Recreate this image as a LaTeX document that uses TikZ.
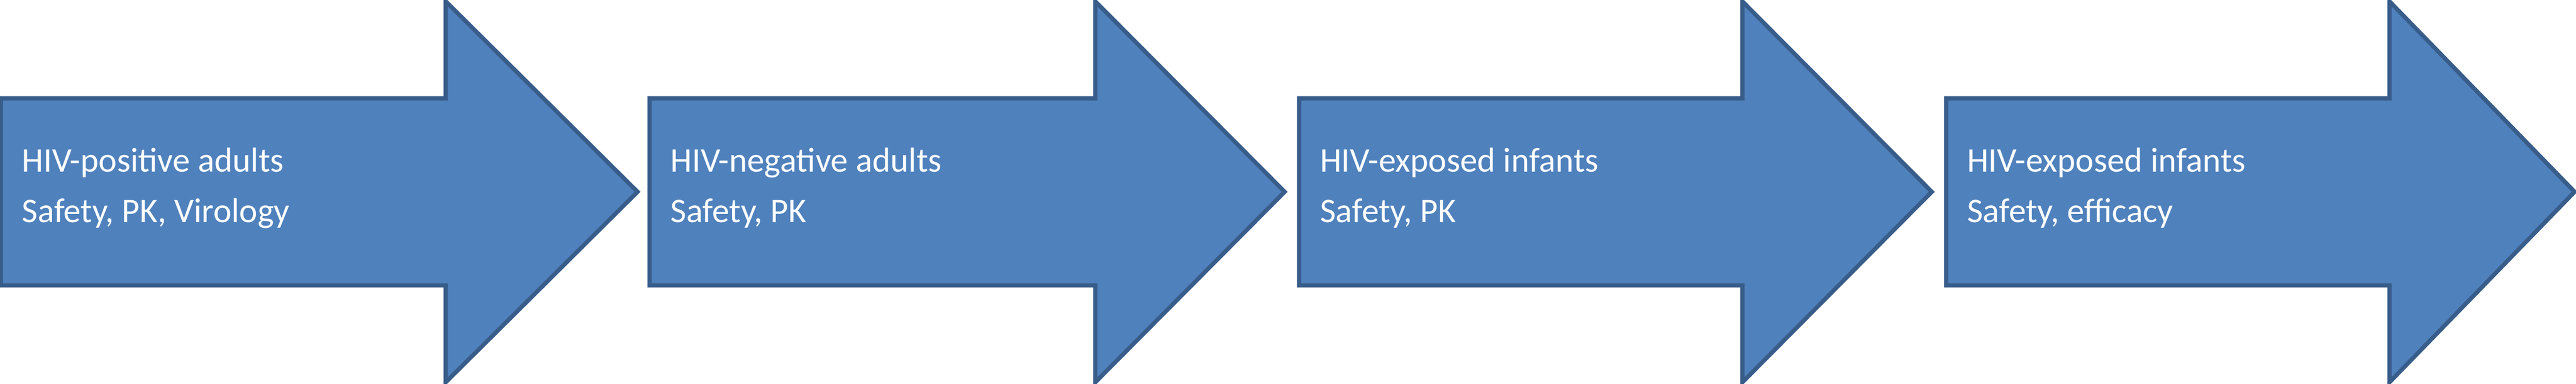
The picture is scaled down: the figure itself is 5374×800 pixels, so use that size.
\documentclass[tikz,border=0pt]{standalone}
\usepackage{fontspec}
\setmainfont{Carlito}
\definecolor{af}{HTML}{4F81BD}
\definecolor{ab}{HTML}{385D8A}
\tikzset{arr/.style={fill=af,draw=ab,line width=2.5pt,line join=miter},
lbl/.style={text=white,align=left,anchor=west,font=\fontsize{20.5}{30}\selectfont,inner sep=0}}
\begin{document}
\begin{tikzpicture}[x=0.01cm,y=-0.01cm]
\useasboundingbox (0,0) rectangle (5374,800);
\foreach \s/\h/\t/\n in {2/930/1330/a,1355/2285/2680/b,2710/3635/4030/c,4060/4985/5371/d}{
\draw[arr] (\s,205) -- (\h,205) -- (\h,3) -- (\t,400) -- (\h,797) -- (\h,595) -- (\s,595) -- cycle;
\coordinate (\n) at (\s+43,392);
}
\node[lbl] (ta) at (a) {HIV-positive adults\\Safety, PK, Virology};
\node[lbl] (tb) at (b) {HIV-negative adults\\Safety, PK};
\node[lbl] (tc) at (c) {HIV-exposed infants\\Safety, PK};
\node[lbl] (td) at (d) {HIV-exposed infants\\Safety, efficacy};
\end{tikzpicture}
\end{document}
